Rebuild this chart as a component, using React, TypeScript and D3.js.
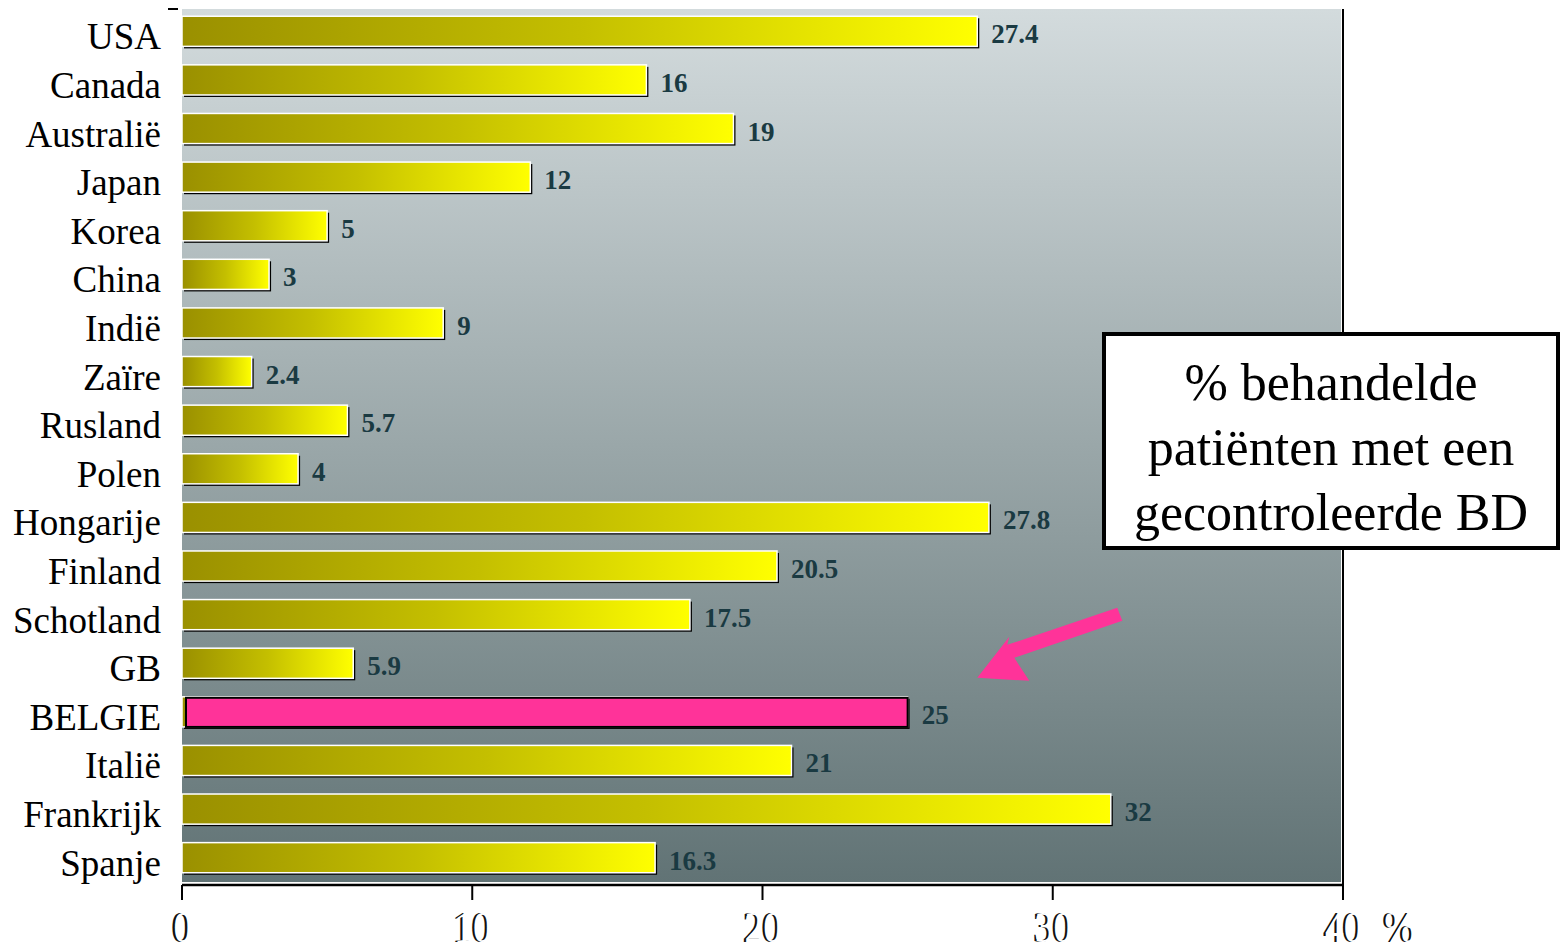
import React from "react";
import * as d3 from "d3";

const countries = ["USA","Canada","Australië","Japan","Korea","China","Indië","Zaïre","Rusland","Polen","Hongarije","Finland","Schotland","GB","BELGIE","Italië","Frankrijk","Spanje"];
const values = [27.4,16,19,12,5,3,9,2.4,5.7,4,27.8,20.5,17.5,5.9,25,21,32,16.3];
const valueLabels = ["27.4","16","19","12","5","3","9","2.4","5.7","4","27.8","20.5","17.5","5.9","25","21","32","16.3"];
const xTicks = [0,10,20,30,40];
const highlight = "BELGIE";
const boxLines = ["% behandelde","patiënten met een","gecontroleerde BD"];

const W = 1564, H = 951;
const plotLeft = 182, plotRight = 1343, plotTop = 9, plotBottom = 882;

export default function App() {
  const x = d3.scaleLinear().domain([0, 40]).range([plotLeft, plotRight]);
  const y = d3.scaleBand<string>().domain(countries).range([7, 882]).paddingInner(0.38).paddingOuter(0.19);
  const bw = y.bandwidth();
  const serif = "'Liberation Serif','Times New Roman',serif";

  const bY = (y(highlight) as number) + bw / 2;
  const tipX = x(27.4), tipY = bY - 34;
  // arrow polygon: tip, head corner1, shaft base1, shaft end1, shaft end2, shaft base2, head corner2
  const arrowPts = [
    [tipX, tipY],
    [tipX + 32, tipY - 41],
    [tipX + 30, tipY - 33],
    [tipX + 140, tipY - 70],
    [tipX + 145, tipY - 57],
    [tipX + 37, tipY - 20],
    [tipX + 52, tipY + 3],
  ];

  const tickLabel = (key: string, cx: number, s: string) => (
    <g key={key} transform={`translate(${cx},942) scale(0.85,1)`} fontFamily={serif} fontSize={44} textAnchor="middle">
      <text x={-1.8} y={0} fill="#111">{s}</text>
      <text x={0.9} y={0} fill="#fff">{s}</text>
    </g>
  );

  return (
    <svg width={W} height={H} style={{ position: "absolute", left: 0, top: 0, background: "#fff" }}>
      <defs>
        <linearGradient id="bg" x1="0" y1="0" x2="0" y2="1">
          <stop offset="0" stopColor="#d3dbdd" />
          <stop offset="1" stopColor="#617375" />
        </linearGradient>
        <linearGradient id="bar" x1="0" y1="0" x2="1" y2="0">
          <stop offset="0" stopColor="#9a9000" />
          <stop offset="0.5" stopColor="#c4bf00" />
          <stop offset="1" stopColor="#ffff00" />
        </linearGradient>
      </defs>
      <rect x={plotLeft} y={plotTop} width={plotRight - 2 - plotLeft} height={plotBottom - plotTop} fill="url(#bg)" />
      <line x1={plotRight} x2={plotRight} y1={plotTop} y2={900} stroke="#000" strokeWidth={2} />
      <line x1={168} x2={178} y1={plotTop} y2={plotTop} stroke="#000" strokeWidth={2} />
      <line x1={plotLeft} x2={plotRight} y1={885} y2={885} stroke="#000" strokeWidth={2.5} />
      {xTicks.map((t) => (
        <line key={t} x1={x(t)} x2={x(t)} y1={885} y2={900} stroke="#000" strokeWidth={2} />
      ))}
      {xTicks.map((t) => tickLabel("l" + t, x(t), String(t)))}
      {tickLabel("pct", x(40) + 56, "%")}

      {countries.map((c, i) => {
        const yy = y(c) as number;
        const w = x(values[i]) - x(0);
        return (
          <g key={c}>
            <rect x={x(0) + 2} y={yy + 2} width={w} height={bw} fill="#000" />
            <rect x={x(0)} y={yy} width={w} height={bw} fill="url(#bar)" stroke="#fff" strokeWidth={1.5} />
            {c === highlight && (
              <rect x={x(0) + 4} y={yy + 1} width={w - 4} height={bw - 1} fill="#ff3399" stroke="#000" strokeWidth={2} />
            )}
            <text x={x(values[i]) + 14} y={yy + bw / 2 + 12} fontFamily={serif} fontWeight="bold" fontSize={27} fill="#1a3a42">
              {valueLabels[i]}
            </text>
            <text x={161} y={yy + bw / 2 + 18} fontFamily={serif} fontSize={37} textAnchor="end" fill="#000">
              {c}
            </text>
          </g>
        );
      })}

      <polygon points={arrowPts.map((p) => p.join(",")).join(" ")} fill="#ff3399" />

      <rect x={1104} y={334} width={454} height={214} fill="#fff" stroke="#000" strokeWidth={4} />
      {boxLines.map((l, i) => (
        <text key={l} x={1331} y={400 + i * 65} fontFamily={serif} fontSize={52} textAnchor="middle" fill="#000">
          {l}
        </text>
      ))}
    </svg>
  );
}
